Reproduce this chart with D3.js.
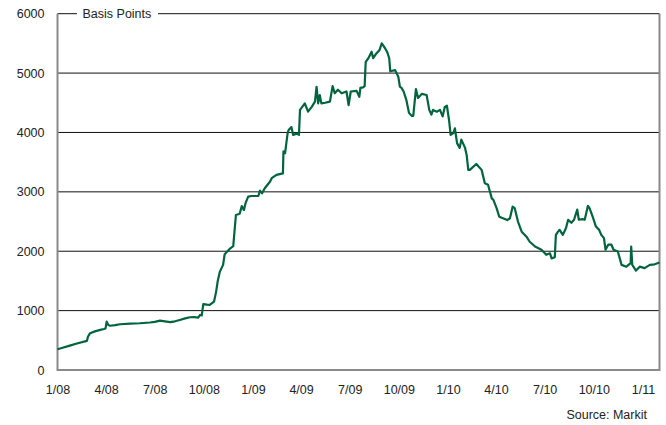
<!DOCTYPE html>
<html>
<head>
    <title>Basis Points</title>
    <style>
        body { margin: 0; background: #fff; }
        text { font-family: "Liberation Sans", Arial, sans-serif; fill: #222; }
    </style>
    <script src="https://d3js.org/d3.v7.min.js"></script>
</head>
<body>
    <div id="chart"></div>
    <script>
        const width = 666, height = 425;

        // spread in basis points
        const dates = [
            "2008-01-01","2008-01-09","2008-01-24","2008-02-08","2008-02-25","2008-02-27","2008-03-02","2008-03-11",
            "2008-03-21","2008-03-28","2008-03-31","2008-04-02","2008-04-05","2008-04-08","2008-04-18","2008-04-27",
            "2008-05-16","2008-06-03","2008-06-22","2008-07-01","2008-07-11","2008-07-20","2008-07-30","2008-08-08",
            "2008-08-17","2008-08-27","2008-09-05","2008-09-14","2008-09-20","2008-09-24","2008-09-27","2008-09-30",
            "2008-10-07","2008-10-12","2008-10-20","2008-10-24","2008-10-27","2008-10-31","2008-11-06","2008-11-09",
            "2008-11-19","2008-11-25","2008-11-30","2008-12-07","2008-12-11","2008-12-15","2008-12-18","2008-12-23",
            "2008-12-29","2009-01-11","2009-01-14","2009-01-18","2009-01-23","2009-02-02","2009-02-05","2009-02-14",
            "2009-02-26","2009-02-27","2009-03-02","2009-03-04","2009-03-07","2009-03-09","2009-03-14","2009-03-17",
            "2009-03-24","2009-03-28","2009-03-30","2009-04-08","2009-04-14","2009-04-21","2009-04-27",
            "2009-04-30","2009-05-03","2009-05-06","2009-05-09","2009-05-16","2009-05-25","2009-05-30","2009-06-03",
            "2009-06-09","2009-06-16","2009-06-25","2009-06-29","2009-07-03","2009-07-14","2009-07-19","2009-07-21",
            "2009-07-26","2009-07-29","2009-07-31","2009-08-05","2009-08-11","2009-08-14","2009-08-20","2009-08-26",
            "2009-08-30","2009-09-03","2009-09-09","2009-09-13","2009-09-15","2009-09-24","2009-09-30","2009-10-03",
            "2009-10-06","2009-10-10","2009-10-15","2009-10-20","2009-10-25","2009-10-28","2009-11-02","2009-11-06",
            "2009-11-13","2009-11-22","2009-11-27","2009-12-01","2009-12-04","2009-12-11","2009-12-17","2009-12-22",
            "2009-12-26","2009-12-30","2010-01-03","2010-01-06","2010-01-11","2010-01-14","2010-01-18","2010-01-23",
            "2010-01-26","2010-02-02","2010-02-05","2010-02-08","2010-02-11","2010-02-23","2010-02-26","2010-03-05",
            "2010-03-11","2010-03-17","2010-03-24","2010-03-27","2010-04-02","2010-04-07","2010-04-14","2010-04-22",
            "2010-04-27","2010-05-02","2010-05-06","2010-05-12","2010-05-19","2010-05-28","2010-06-03","2010-06-13",
            "2010-06-25","2010-07-04","2010-07-11","2010-07-14","2010-07-20","2010-07-22","2010-07-26","2010-07-29",
            "2010-08-04","2010-08-10","2010-08-14","2010-08-20","2010-08-25","2010-08-31","2010-09-03","2010-09-10",
            "2010-09-14","2010-09-20","2010-09-23","2010-09-29","2010-10-05","2010-10-11","2010-10-15","2010-10-20",
            "2010-10-23","2010-10-28","2010-11-03","2010-11-07","2010-11-15","2010-11-22","2010-12-01","2010-12-09",
            "2010-12-10","2010-12-12","2010-12-19","2010-12-26","2011-01-04","2011-01-14","2011-01-23","2011-02-01"
        ];
        const spread = [
            350, 370, 410, 450, 490, 560, 620, 650,
            675, 690, 700, 815, 760, 745, 755, 770,
            780, 787, 800, 810, 831, 820, 805, 820,
            843, 870, 888, 890, 880, 927, 920, 1110,
            1100, 1095, 1150, 1320, 1500, 1657, 1770, 1950,
            2045, 2085, 2610, 2630, 2760, 2695, 2810, 2920,
            2930, 2930, 3020, 2975, 3060, 3175, 3230, 3285,
            3310, 3680, 3650, 3790, 4000, 4045, 4090, 3960,
            3980, 3960, 4380, 4490, 4350, 4430, 4520,
            4770, 4490, 4630, 4490, 4500, 4520, 4780, 4660,
            4720, 4660, 4690, 4460, 4690, 4700, 4600, 4750,
            4760, 4780, 5190, 5250, 5360, 5250, 5330, 5390,
            5500, 5450, 5360, 5250, 5030, 5050, 4940, 4770,
            4750, 4690, 4550, 4330, 4280, 4280, 4730, 4580,
            4650, 4630, 4380, 4300, 4380, 4350, 4380, 4270,
            4430, 4450, 4210, 3960, 3990, 4070, 3820, 3740,
            3880, 3740, 3620, 3370, 3370, 3470, 3440, 3370,
            3145, 3120, 2890, 2865, 2725, 2580, 2555, 2525,
            2555, 2750, 2725, 2500, 2330, 2245, 2160, 2080,
            2025, 1940, 1965, 1880, 1900, 2275, 2330, 2360,
            2275, 2390, 2530, 2480, 2530, 2700, 2530, 2540,
            2530, 2765, 2725, 2580, 2415, 2360, 2275, 2220,
            2025, 2110, 2110, 2025, 1995, 1770, 1740, 1800,
            2080, 1770, 1675, 1740, 1715, 1770, 1780, 1810
        ];
        const yTicks = [0, 1000, 2000, 3000, 4000, 5000, 6000];
        const xTicks = ["2008-01-01","2008-04-01","2008-07-01","2008-10-01","2009-01-01","2009-04-01","2009-07-01",
                        "2009-10-01","2010-01-01","2010-04-01","2010-07-01","2010-10-01","2011-01-01"];

        const parse = d3.timeParse("%Y-%m-%d");
        const data = dates.map((d, i) => ({ date: parse(d), value: spread[i] }));

        const margin = { left: 57.5, right: 6.5, top: 13.7, bottom: 55 };

        const x = d3.scaleTime()
            .domain([parse("2008-01-01"), parse("2011-02-01")])
            .range([margin.left, width - margin.right]);

        const y = d3.scaleLinear()
            .domain([0, 6000])
            .range([height - margin.bottom, margin.top]);

        const svg = d3.select("#chart").append("svg")
            .attr("width", width)
            .attr("height", height);

        // gridlines
        svg.append("g")
            .selectAll("line")
            .data(yTicks.filter(t => t > 0 && t < 6000))
            .enter().append("line")
            .attr("x1", x.range()[0])
            .attr("x2", x.range()[1])
            .attr("y1", d => y(d))
            .attr("y2", d => y(d))
            .attr("stroke", "#111")
            .attr("stroke-width", 1);

        // top border, broken by the unit label
        const topY = y(6000);
        svg.append("line")
            .attr("x1", x.range()[0]).attr("x2", 77)
            .attr("y1", topY).attr("y2", topY)
            .attr("stroke", "#111");
        svg.append("line")
            .attr("x1", 158).attr("x2", x.range()[1])
            .attr("y1", topY).attr("y2", topY)
            .attr("stroke", "#111");
        svg.append("text")
            .attr("x", 82.5)
            .attr("y", 17.5)
            .attr("font-size", "12.5px")
            .text("Basis Points");

        // frame: left, bottom, right in gray
        svg.append("path")
            .attr("d", `M${x.range()[0]},${topY}V${y(0)}H${x.range()[1]}V${topY}`)
            .attr("fill", "none")
            .attr("stroke", "#8a8a8a")
            .attr("stroke-width", 2);

        // axes
        const yAxis = svg.append("g")
            .attr("transform", `translate(${x.range()[0]},0)`)
            .call(d3.axisLeft(y).tickValues(yTicks).tickSize(0).tickPadding(13).tickFormat(d3.format("d")));
        yAxis.select(".domain").remove();
        yAxis.selectAll("text").attr("font-size", "12.5px").attr("font-family", null);

        const xAxis = svg.append("g")
            .attr("transform", `translate(0,${y(0)})`)
            .call(d3.axisBottom(x).tickValues(xTicks.map(parse)).tickSize(0).tickPadding(15)
                .tickFormat(d3.timeFormat("%-m/%y")));
        xAxis.select(".domain").remove();
        xAxis.selectAll("text").attr("font-size", "12.5px").attr("font-family", null);

        // series
        const line = d3.line()
            .x(d => x(d.date))
            .y(d => y(d.value));

        svg.append("path")
            .datum(data)
            .attr("fill", "none")
            .attr("stroke", "#00653d")
            .attr("stroke-width", 2.2)
            .attr("stroke-linejoin", "round")
            .attr("d", line);

        svg.append("text")
            .attr("x", 647)
            .attr("y", 419)
            .attr("text-anchor", "end")
            .attr("font-size", "12.5px")
            .text("Source: Markit");
    </script>
</body>
</html>
